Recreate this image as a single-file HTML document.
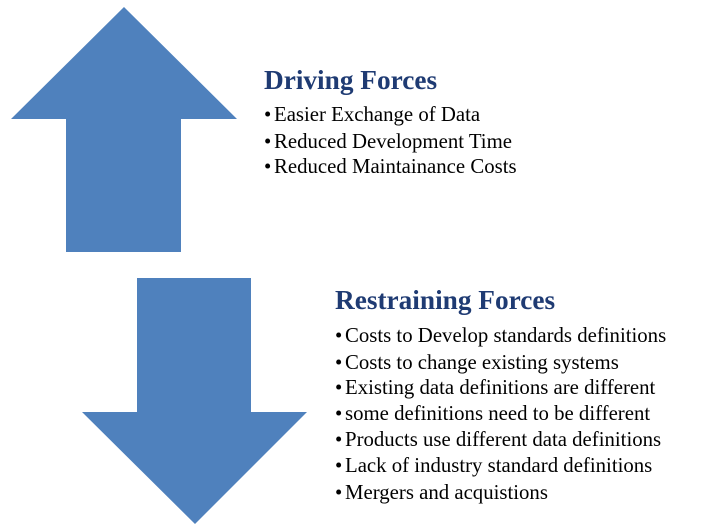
<!DOCTYPE html>
<html><head><meta charset="utf-8"><style>
body{margin:0;width:723px;height:531px;background:#fff;overflow:hidden;position:relative;font-family:"Liberation Serif",serif}
.t{position:absolute;color:#1f3b73;font-weight:bold;font-size:27.3px;white-space:nowrap;line-height:32px}
.i{position:absolute;font-size:20.8px;color:#000;white-space:nowrap;line-height:24px}
.i b{font-weight:normal;display:inline-block;width:10px}
</style></head><body>
<svg width="723" height="531" style="position:absolute;left:0;top:0">
<polygon points="124,7 237,119 181,119 181,252 66,252 66,119 11,119" fill="#4f81bd"/>
<polygon points="137,278 251,278 251,412 307,412 195,524 82,412 137,412" fill="#4f81bd"/>
</svg>
<div class="t" style="left:264px;top:64px">Driving Forces</div>
<div>
<div class="i" style="left:264px;top:103px"><b>•</b>Easier Exchange of Data</div>
<div class="i" style="left:264px;top:130px"><b>•</b>Reduced Development Time</div>
<div class="i" style="left:264px;top:155px"><b>•</b>Reduced Maintainance Costs</div>
</div>
<div class="t" style="left:335px;top:284px">Restraining Forces</div>
<div>
<div class="i" style="left:335px;top:324px"><b>•</b>Costs to Develop standards definitions</div>
<div class="i" style="left:335px;top:351px"><b>•</b>Costs to change existing systems</div>
<div class="i" style="left:335px;top:376px"><b>•</b>Existing data definitions are different</div>
<div class="i" style="left:335px;top:402px"><b>•</b>some definitions need to be different</div>
<div class="i" style="left:335px;top:428px"><b>•</b>Products use different data definitions</div>
<div class="i" style="left:335px;top:454px"><b>•</b>Lack of industry standard definitions</div>
<div class="i" style="left:335px;top:481px"><b>•</b>Mergers and acquistions</div>
</div>
</body></html>
